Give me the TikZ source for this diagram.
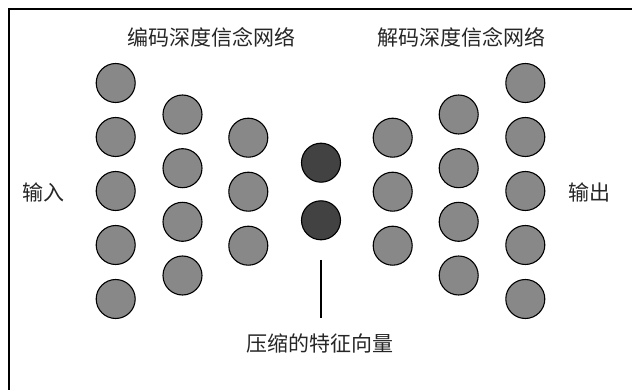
\documentclass[tikz,border=0pt]{standalone}
\usepackage{fontspec}
\newfontfamily\cjk{Noto Sans CJK SC}
\definecolor{midgray}{RGB}{136,136,136}
\definecolor{codegray}{RGB}{66,66,66}
\begin{document}
\begin{tikzpicture}[x=1pt,y=-1pt,
  neuron/.style={circle,draw=black,line width=1.1pt,minimum size=39pt,inner sep=0pt,fill=midgray},
  code/.style={neuron,fill=codegray},
  lbl/.style={font=\cjk\fontsize{21}{25}\selectfont,inner sep=0pt,text=black!85},
  frame/.style={line width=2pt,line cap=butt}]
\useasboundingbox (0,0) rectangle (632,390);
\fill[white] (0,0) rectangle (632,390);
% frame (top and left edges only)
\coordinate (fb) at (9,390);
\coordinate (fc) at (9,9);
\coordinate (fr) at (632,9);
\draw[frame] (fb) -- (fc) -- (fr);
% encoder
\foreach \y [count=\i] in {83,137,191,245,299} \node[neuron] (a\i) at (115.7,\y) {};
\foreach \y [count=\i] in {114.5,168.2,221.8,275.5} \node[neuron] (b\i) at (182.5,\y) {};
\foreach \y [count=\i] in {137.7,191.7,245.7} \node[neuron] (c\i) at (248.3,\y) {};
% code
\node[code] (d1) at (321,162.7) {};
\node[code] (d2) at (321,220.3) {};
% decoder
\foreach \y [count=\i] in {137.7,191.7,245.7} \node[neuron] (e\i) at (392.7,\y) {};
\foreach \y [count=\i] in {114.5,168.2,221.8,275.5} \node[neuron] (f\i) at (458.7,\y) {};
\foreach \y [count=\i] in {83,137,191,245,299} \node[neuron] (g\i) at (525.3,\y) {};
% labels
\node[lbl] (enc) at (211,37) {编码深度信念网络};
\node[lbl] (dec) at (461,37) {解码深度信念网络};
\node[lbl] (in) at (43,192) {输入};
\node[lbl] (out) at (589,192) {输出};
\node[lbl] (feat) at (320,343) {压缩的特征向量};
\coordinate (ltop) at (321,260);
\coordinate (lbot) at (321,318);
\draw[line width=1.2pt] (ltop) -- (lbot);
\end{tikzpicture}
\end{document}
